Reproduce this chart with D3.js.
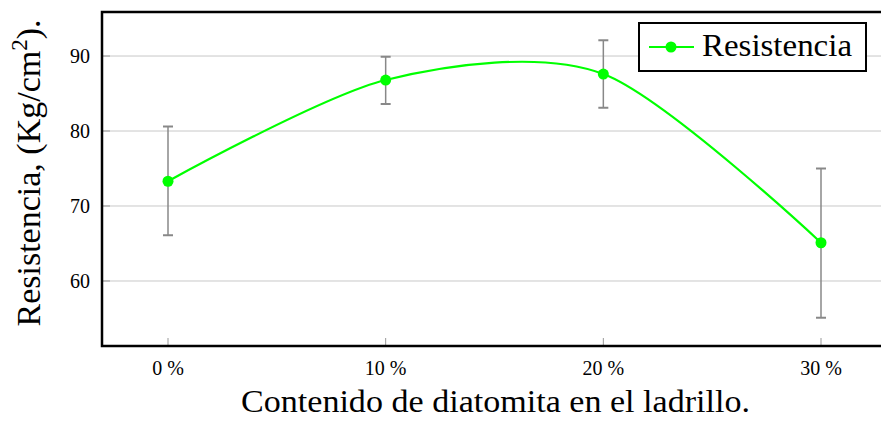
<!DOCTYPE html>
<html><head><meta charset="utf-8">
<script src="https://cdn.jsdelivr.net/npm/d3@7"></script>
<style>body{margin:0;background:#fff}svg{display:block}</style>
</head><body>
<script>
const categories = [0, 10, 20, 30];
const tickLabels = ["0 %", "10 %", "20 %", "30 %"];
const values = [73.3, 86.8, 87.6, 65.1];
const errUpper = [80.6, 89.9, 92.1, 75.0];
const errLower = [66.1, 83.6, 83.1, 55.1];
const yTicks = [60, 70, 80, 90];
const seriesName = "Resistencia";

const W = 881, H = 421;
const L = 102, T = 12, B = 346, R = 895;
const font = "'Liberation Serif', 'DejaVu Serif', serif";

const svg = d3.select("body").append("svg").attr("width", W).attr("height", H);
const x = d3.scaleLinear().domain([0, 30]).range([168, 821]);
const y = d3.scaleLinear().domain([51.33, 95.87]).range([B, T]);

// grid
svg.append("g").selectAll("line").data(yTicks).join("line")
  .attr("x1", L).attr("x2", R).attr("y1", d => y(d)).attr("y2", d => y(d))
  .attr("stroke", "#c8c8c8").attr("stroke-width", 1);
// x tick marks
svg.append("g").selectAll("line").data(categories).join("line")
  .attr("x1", d => x(d)).attr("x2", d => x(d)).attr("y1", B).attr("y2", B - 8)
  .attr("stroke", "#999").attr("stroke-width", 1);
// y tick marks
svg.append("g").selectAll("line").data(yTicks).join("line")
  .attr("x1", L).attr("x2", L + 8).attr("y1", d => y(d)).attr("y2", d => y(d))
  .attr("stroke", "#999").attr("stroke-width", 1);

// error bars
const eg = svg.append("g").attr("stroke", "#888").attr("stroke-width", 1.5);
categories.forEach((c, i) => {
  eg.append("line").attr("x1", x(c)).attr("x2", x(c)).attr("y1", y(errUpper[i])).attr("y2", y(errLower[i]));
  [errUpper[i], errLower[i]].forEach(v => eg.append("line")
    .attr("x1", x(c) - 5).attr("x2", x(c) + 5).attr("y1", y(v)).attr("y2", y(v)).attr("stroke-width", 2));
});

// line
const line = d3.line().x((d, i) => x(categories[i])).y(d => y(d)).curve(d3.curveCardinal.tension(0.15));
svg.append("path").datum(values).attr("d", line).attr("fill", "none")
  .attr("stroke", "#00ff00").attr("stroke-width", 2.2);
svg.append("g").selectAll("circle").data(values).join("circle")
  .attr("cx", (d, i) => x(categories[i])).attr("cy", d => y(d)).attr("r", 5.5).attr("fill", "#00ff00");

// frame
svg.append("rect").attr("x", L).attr("y", T).attr("width", R - L).attr("height", B - T)
  .attr("fill", "none").attr("stroke", "#000").attr("stroke-width", 2.5);

// tick labels
svg.append("g").selectAll("text").data(yTicks).join("text")
  .attr("x", 90).attr("y", d => y(d) + 7).attr("text-anchor", "end")
  .attr("font-family", font).attr("font-size", 20).text(d => d);
svg.append("g").selectAll("text").data(categories).join("text")
  .attr("x", d => x(d)).attr("y", 375).attr("text-anchor", "middle")
  .attr("font-family", font).attr("font-size", 20).text((d, i) => tickLabels[i]);

// axis titles
svg.append("text").attr("x", 241).attr("y", 412)
  .attr("font-family", font).attr("font-size", 31)
  .attr("textLength", 509).attr("lengthAdjust", "spacingAndGlyphs")
  .text("Contenido de diatomita en el ladrillo.");
const yl = svg.append("text").attr("transform", "translate(40,173) rotate(-90)")
  .attr("text-anchor", "middle").attr("font-family", font).attr("font-size", 34);
yl.append("tspan").text("Resistencia,  (Kg/cm");
yl.append("tspan").attr("dy", -13).attr("font-size", 23).text("2");
yl.append("tspan").attr("dy", 13).text(").");

// legend
const lg = svg.append("g");
lg.append("rect").attr("x", 639).attr("y", 23).attr("width", 227).attr("height", 48)
  .attr("fill", "#fff").attr("stroke", "#000").attr("stroke-width", 2);
lg.append("line").attr("x1", 649).attr("x2", 694).attr("y1", 47).attr("y2", 47)
  .attr("stroke", "#00ff00").attr("stroke-width", 2.2);
lg.append("circle").attr("cx", 671).attr("cy", 47).attr("r", 5.5).attr("fill", "#00ff00");
lg.append("text").attr("x", 702).attr("y", 56).attr("font-family", font).attr("font-size", 32)
  .attr("textLength", 150).attr("lengthAdjust", "spacingAndGlyphs").text(seriesName);
</script>
</body></html>
